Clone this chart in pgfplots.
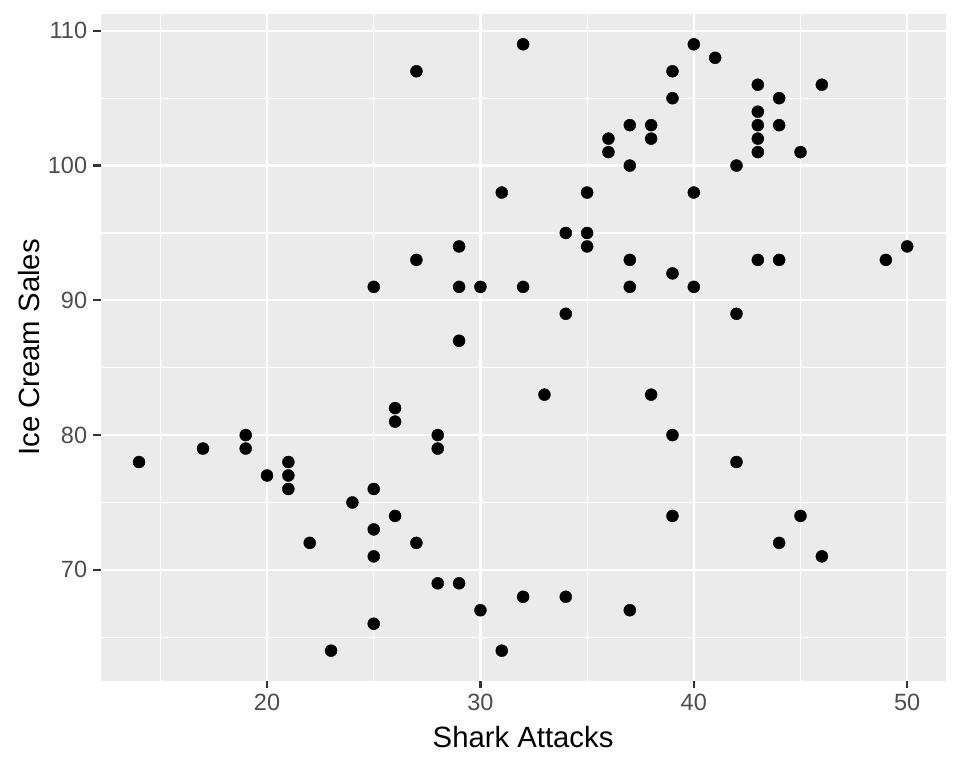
\documentclass[border=0pt]{standalone}
\usepackage{pgfplots}
\pgfplotsset{compat=1.18}
\usepackage{fontspec}
\setmainfont{Liberation Sans}
\definecolor{ggbg}{HTML}{EBEBEB}
\definecolor{ggtext}{HTML}{4D4D4D}
\definecolor{ggtick}{HTML}{333333}
\begin{document}
\begin{tikzpicture}
\useasboundingbox (0,0) rectangle (960bp,768bp);
\begin{axis}[
  at={(100.6bp,87bp)}, anchor=south west,
  scale only axis, width=845bp, height=667bp,
  xmin=12.2, xmax=51.8, ymin=61.75, ymax=111.25,
  xtick={20,30,40,50}, ytick={70,80,90,100,110},
  minor xtick={15,25,35,45}, minor ytick={65,75,85,95,105},
  separate axis lines, axis x line*=bottom, axis y line*=left,
  axis line style={draw=none},
  axis background/.style={fill=ggbg},
  grid=both,
  major grid style={white, line width=2.2bp},
  minor grid style={white, line width=1.1bp},
  tick align=outside,
  major tick length=7.3bp, minor tick length=0pt,
  tick style={ggtick, line width=2.2bp},
  /pgf/number format/assume math mode=true,
  ticklabel style={font=\fontsize{23.5bp}{28bp}\selectfont, text=ggtext, inner sep=0pt},
  xticklabel style={yshift=-6bp},
  yticklabel style={xshift=-6bp},
  label style={font=\fontsize{29.3bp}{34bp}\selectfont, text=black},
  xlabel={Shark Attacks},
  ylabel={Ice Cream Sales},
  xlabel style={inner sep=0pt, yshift=-15bp},
  ylabel style={inner sep=0pt, yshift=8bp},
]
\addplot[only marks, mark=*, mark size=6bp, mark options={fill=black, draw=none}] coordinates {
(14,78) (17,79) (19,80) (19,79) (20,77) (21,78) (21,77) (21,76) (22,72) (23,64)
(24,75) (25,91) (25,76) (25,73) (25,71) (25,66) (26,82) (26,81) (26,74)
(27,107) (27,93) (27,72) (28,80) (28,79) (28,69) (29,94) (29,91) (29,87) (29,69)
(30,91) (30,67) (31,98) (31,64) (32,109) (32,91) (32,68) (33,83)
(34,95) (34,89) (34,68) (35,98) (35,95) (35,94) (36,102) (36,101)
(37,103) (37,100) (37,93) (37,91) (37,67) (38,103) (38,102) (38,83)
(39,107) (39,105) (39,92) (39,80) (39,74) (40,109) (40,98) (40,91) (41,108)
(42,100) (42,89) (42,78) (43,106) (43,104) (43,103) (43,102) (43,101) (43,93)
(44,105) (44,103) (44,93) (44,72) (45,101) (45,74) (46,106) (46,71) (49,93) (50,94)
};
\end{axis}
\end{tikzpicture}
\end{document}
